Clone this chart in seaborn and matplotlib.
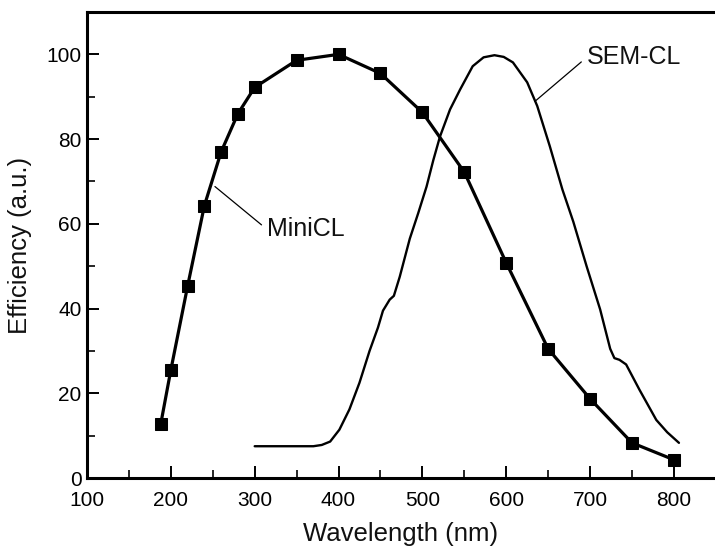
import matplotlib
matplotlib.use("Agg")
import matplotlib.pyplot as plt
import seaborn as sns
import pandas as pd
from matplotlib.ticker import MultipleLocator

# ---- data ----
minicl_wl = [188, 200, 220, 240, 260, 280, 300, 350, 400, 450, 500, 550, 600, 650, 700, 750, 800]
minicl_eff = [12.8, 25.5, 45.3, 64.3, 77.0, 86.0, 92.2, 98.6, 100.0, 95.5, 86.3, 72.2, 50.8, 30.5, 18.7, 8.3, 4.3]

semcl_wl = [300, 370, 380, 390, 401, 413, 425, 437, 447, 453, 461, 466, 473, 485, 495,
            505, 513, 521, 533, 545, 560, 573, 586, 597, 608, 625, 637, 652, 667, 680,
            696, 712, 724, 729, 735, 743, 759, 779, 792, 806]
semcl_eff = [7.5, 7.5, 7.8, 8.6, 11.4, 16.2, 22.5, 30.0, 35.5, 39.5, 42.1, 43.0, 47.5, 56.5, 62.5,
             68.8, 75.0, 80.6, 87.0, 91.7, 97.2, 99.3, 99.8, 99.4, 98.1, 93.4, 87.8, 78.3, 68.1, 60.5,
             49.9, 39.8, 30.5, 28.3, 27.9, 26.8, 20.8, 13.7, 10.8, 8.3]

x_ticks = [100, 200, 300, 400, 500, 600, 700, 800]
y_ticks = [0, 20, 40, 60, 80, 100]

df_mini = pd.DataFrame({"wl": minicl_wl, "eff": minicl_eff})
df_sem = pd.DataFrame({"wl": semcl_wl, "eff": semcl_eff})

sns.set_theme(style="ticks")
plt.rcParams["font.family"] = ["Liberation Sans", "DejaVu Sans"]

fig = plt.figure(figsize=(7.15, 5.47), dpi=100)
ax = fig.add_axes([87 / 715, 69 / 547, 628 / 715, 466 / 547])

sns.lineplot(data=df_sem, x="wl", y="eff", ax=ax, color="black", linewidth=1.7,
             sort=False, estimator=None)
sns.lineplot(data=df_mini, x="wl", y="eff", ax=ax, color="black", linewidth=2.3,
             marker="s", markersize=8, markeredgecolor="black", sort=False, estimator=None)

ax.set_xlim(100, 849)
ax.set_ylim(0, 110)
ax.set_xticks(x_ticks)
ax.set_yticks(y_ticks)
ax.xaxis.set_minor_locator(MultipleLocator(50))
ax.yaxis.set_minor_locator(MultipleLocator(10))

ax.tick_params(axis="both", which="major", direction="in", length=8.5, width=1.4,
               labelsize=15, colors="black", pad=4)
ax.tick_params(axis="both", which="minor", direction="in", length=5.5, width=1.4)
ax.tick_params(axis="x", which="major", pad=9.5)

for side in ["left", "bottom", "top"]:
    ax.spines[side].set_linewidth(2.2)
    ax.spines[side].set_color("black")
ax.spines["right"].set_visible(False)

ax.set_xlabel("Wavelength (nm)", fontsize=18.5, labelpad=8.5, color="#111111")
ax.set_ylabel("Efficiency (a.u.)", fontsize=18.5, labelpad=10, color="#111111")

ax.annotate("MiniCL", xy=(252.6, 68.8), xytext=(314.6, 58.7), ha="left", va="center",
            fontsize=18, color="#111111",
            arrowprops=dict(arrowstyle="-", lw=0.9, color="black", relpos=(0, 0.5),
                            shrinkA=2, shrinkB=0))
ax.annotate("SEM-CL", xy=(634.2, 88.9), xytext=(696, 99.3), ha="left", va="center",
            fontsize=18, color="#111111",
            arrowprops=dict(arrowstyle="-", lw=0.9, color="black", relpos=(0, 0.5),
                            shrinkA=2, shrinkB=0))

fig.savefig("out.png", dpi=100)
